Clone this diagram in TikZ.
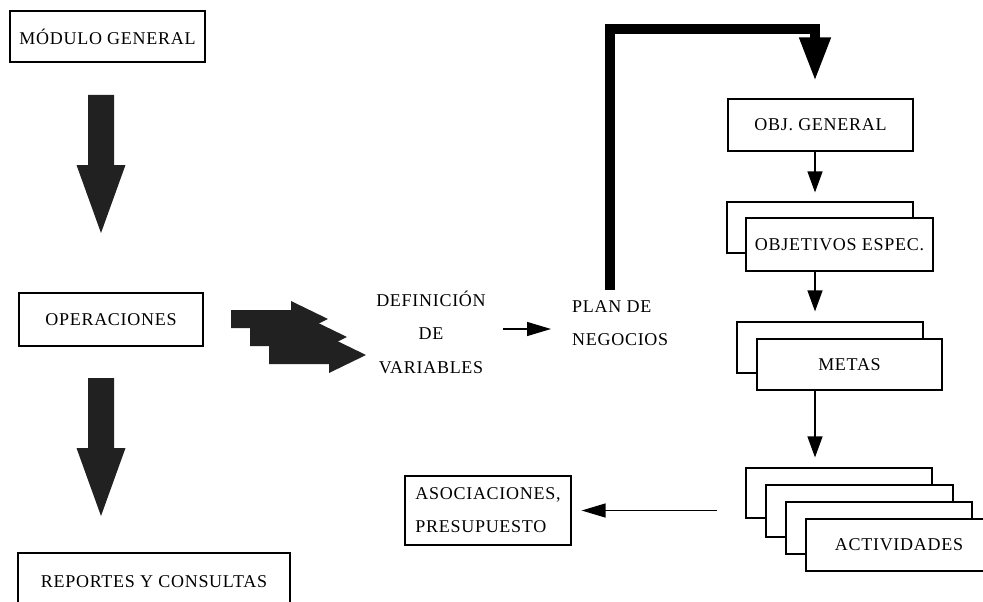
\documentclass[tikz,border=0pt]{standalone}
\usepackage{fontspec}
\setmainfont{Liberation Serif}[LetterSpace=4]
\usetikzlibrary{arrows.meta,calc}
\begin{document}
\begin{tikzpicture}[x=1pt,y=-1pt,
  lbl/.style={font=\fontsize{18}{22}\selectfont, inner sep=0pt},
  box/.style={draw, line width=1.2pt, fill=white, inner sep=0pt, lbl},
  thinarrow/.style={line width=1.3pt, -{Triangle[length=21pt,width=15pt]}},
  sidearrow/.style={line width=1.3pt, -{Triangle[length=24pt,width=14pt]}},
  blockfill/.style={fill=black!87},
  bigbend/.style={line width=10pt, -{Triangle[length=44pt,width=29pt]}},
  pics/downblock/.style={code={
    \fill[blockfill] (-13,0) -- (13,0) -- (13,70) -- (24.5,70) -- (0,138)
      -- (-24.5,70) -- (-13,70) -- cycle;}},
  pics/rightblock/.style={code={
    \fill[blockfill] (0,-9) -- (60,-9) -- (60,-18) -- (97,0) -- (60,18)
      -- (60,9) -- (0,9) -- cycle;}}
]
\useasboundingbox (0,0) rectangle (983,602);
\clip (0,0) rectangle (983,602);

% left column
\node[box, minimum width=195pt, minimum height=51pt] (mod) at (107.5,36.5) {MÓDULO GENERAL};
\node[box, minimum width=184pt, minimum height=53pt] (ope) at (111,319.5) {OPERACIONES};
\node[box, minimum width=272pt, minimum height=58pt] (rep) at (154,582) {REPORTES Y CONSULTAS};

\pic at (101,95) {downblock};
\pic at (101,378) {downblock};

% stacked block arrows towards the variables
\pic at (231,319) {rightblock};
\pic at (250,337) {rightblock};
\pic at (269,355) {rightblock};

\node[lbl, align=center, font=\fontsize{18}{33.5}\selectfont] (defv) at (431,332) {DEFINICIÓN\\DE\\VARIABLES};
\node[lbl, align=left, anchor=west, font=\fontsize{18}{33}\selectfont] (plan) at (572,323.5) {PLAN DE\\NEGOCIOS};

\coordinate (ay) at (0,329);
\draw[sidearrow] ($(defv.east |- ay)+(17,0)$) -- ($(plan.west |- ay)+(-21,0)$);

% right column
\node[box, minimum width=185pt, minimum height=52pt] (objg) at (820.5,125) {OBJ. GENERAL};
\node[box, minimum width=186pt, minimum height=51pt] (objeb) at (820,227.5) {};
\node[box, minimum width=187pt, minimum height=53pt] (obje) at (839.5,244.5) {OBJETIVOS ESPEC.};
\node[box, minimum width=186pt, minimum height=51pt] (metasb) at (830,347.5) {};
\node[box, minimum width=185pt, minimum height=51pt] (metas) at (849.5,364.5) {METAS};
\node[box, minimum width=186pt, minimum height=50pt] (act1) at (839,493) {};
\node[box, minimum width=187pt, minimum height=52pt] (act2) at (859.5,511) {};
\node[box, minimum width=186pt, minimum height=52pt] (act3) at (879,528) {};
\node[box, minimum width=186pt, minimum height=52pt] (act) at (899,545) {ACTIVIDADES};
\node[box, align=left, minimum width=166pt, minimum height=69pt, font=\fontsize{18}{33}\selectfont] (asoc) at (488,510.5) {ASOCIACIONES,\\PRESUPUESTO};

\coordinate (colx) at (815,0);
\draw[thinarrow, shorten >=9pt] (objg.south -| colx) -- (objeb.north -| colx);
\draw[thinarrow, shorten >=10pt] (obje.south -| colx) -- (metasb.north -| colx);
\draw[thinarrow, shorten >=10pt] (metas.south -| colx) -- (act1.north -| colx);
\draw[sidearrow, shorten <=28pt, shorten >=10pt] (act1.west |- asoc) -- (asoc.east);

% heavy feedback arrow from the business plan to the general objective
\coordinate (bkbot) at (610,290);
\coordinate (bkturn) at (815,29.5);
\draw[bigbend] (bkbot) |- (bkturn) -- ($(objg.north -| bkturn)+(0,-17)$);
\end{tikzpicture}
\end{document}
